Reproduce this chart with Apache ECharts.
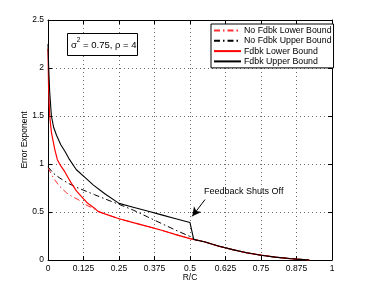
<!DOCTYPE html>
<html><head><meta charset="utf-8">
<script src="https://cdn.jsdelivr.net/npm/echarts@6/dist/echarts.min.js"></script>
<style>html,body{margin:0;padding:0;background:#fff}#c{width:368px;height:295px}</style>
</head><body><div id="c"></div>
<script>
var seriesNames = ['No Fdbk Lower Bound','No Fdbk Upper Bound','Fdbk Lower Bound','Fdbk Upper Bound'];
var xTicks = [0,0.125,0.25,0.375,0.5,0.625,0.75,0.875,1];
var yTicks = [0,0.5,1,1.5,2,2.5];
var tailX = [0.55,0.6,0.65,0.7,0.75,0.8,0.85,0.875,0.9,0.92];
var tailY = [0.19,0.145,0.108,0.075,0.05,0.03,0.015,0.009,0.004,0];
var fuX = [0,0.0025,0.006,0.012,0.02,0.03,0.045,0.06,0.076,0.1,0.13,0.16,0.2,0.25,0.3,0.35,0.4,0.45,0.5,0.513];
var fuY = [2.25,2.0,1.75,1.5,1.38,1.3,1.2,1.13,1.045,0.94,0.86,0.78,0.69,0.59,0.55,0.51,0.47,0.43,0.39,0.215];
var flX = [0,0.002,0.006,0.012,0.024,0.033,0.045,0.059,0.082,0.1,0.118,0.14,0.164,0.176,0.2,0.25,0.3,0.35,0.4,0.45,0.5];
var flY = [2.2,1.8,1.5,1.33,1.15,1.045,0.98,0.92,0.8,0.72,0.66,0.59,0.54,0.506,0.48,0.43,0.39,0.35,0.31,0.265,0.222];
var nlX = [0,0.02,0.04,0.065,0.085,0.106,0.13,0.164,0.176,0.2,0.25,0.3,0.35,0.4,0.45,0.5];
var nlY = [0.96,0.85,0.77,0.70,0.66,0.63,0.58,0.53,0.506,0.48,0.43,0.39,0.35,0.31,0.265,0.222];
var nuX = [0,0.02,0.041,0.07,0.106,0.164,0.223,0.25,0.3,0.35,0.4,0.45,0.5,0.52];
var nuY = [0.97,0.9,0.855,0.8,0.75,0.68,0.61,0.58,0.52,0.45,0.38,0.31,0.245,0.207];
var annotText = 'Feedback Shuts Off';
var annotFrom = [0.553,0.63];
var annotTo = [0.508,0.455];

function pairs(xs, ys, withTail){
  var out = xs.map(function(x,i){return [x, ys[i]];});
  if (withTail) tailX.forEach(function(x,i){ out.push([x, tailY[i]]); });
  return out;
}
var FONT = 'Liberation Sans';
var chart = echarts.init(document.getElementById('c'), null, {renderer:'canvas', width:368, height:295});
var dashDot = [6,3,1.5,3];
var axisCommon = {
  axisLine:{show:true, onZero:false, lineStyle:{color:'#000', width:1}},
  axisTick:{show:true, inside:true, length:4, lineStyle:{color:'#000'}},
  axisLabel:{color:'#000', fontSize:8.5, fontFamily:FONT, margin:4}
};
chart.setOption({
  animation:false,
  backgroundColor:'#fff',
  grid:{left:48, right:36, top:20, bottom:35, show:false},
  legend:{
    left:211, top:24, orient:'vertical', itemGap:1.3, itemWidth:27, itemHeight:9,
    padding:[2,2,2,2], borderColor:'#000', borderWidth:1, backgroundColor:'#fff',
    itemStyle:{opacity:0},
    textStyle:{color:'#000', fontSize:8.8, fontFamily:FONT, padding:[0,0,0,-2]},
    data: seriesNames
  },
  xAxis:[
    Object.assign({type:'value', min:0, max:1, interval:0.125, position:'bottom',
      name:'R/C', nameLocation:'middle', nameGap:13, nameMoveOverlap:false,
      nameTextStyle:{color:'#000', fontSize:8.5, fontFamily:FONT},
      splitLine:{show:true, lineStyle:{color:'#666', type:[1,3], width:1}}}, axisCommon),
    {type:'value', min:0, max:1, interval:0.125, position:'top',
      axisLine:{show:true, onZero:false, lineStyle:{color:'#000'}},
      axisTick:{show:true, inside:true, length:4, lineStyle:{color:'#000'}},
      axisLabel:{show:false}, splitLine:{show:false}}
  ],
  yAxis:[
    Object.assign({type:'value', min:0, max:2.5, interval:0.5, position:'left',
      name:'Error Exponent', nameLocation:'middle', nameGap:19, nameMoveOverlap:false,
      nameTextStyle:{color:'#000', fontSize:8.5, fontFamily:FONT},
      splitLine:{show:true, lineStyle:{color:'#666', type:[1,3], width:1}}}, axisCommon),
    {type:'value', min:0, max:2.5, interval:0.5, position:'right',
      axisLine:{show:true, onZero:false, lineStyle:{color:'#000'}},
      axisTick:{show:true, inside:true, length:4, lineStyle:{color:'#000'}},
      axisLabel:{show:false}, splitLine:{show:false}}
  ],
  series:[
    {name:seriesNames[0], type:'line', symbol:'none', data:pairs(nlX,nlY,true),
      lineStyle:{color:'#ff3030', width:1, type:dashDot}, itemStyle:{color:'#ff3030'}, z:2},
    {name:seriesNames[1], type:'line', symbol:'none', data:pairs(nuX,nuY,true),
      lineStyle:{color:'#000', width:1, type:dashDot}, itemStyle:{color:'#000'}, z:3},
    {name:seriesNames[2], type:'line', symbol:'none', data:pairs(flX,flY,true),
      lineStyle:{color:'#ff0000', width:1.2, type:'solid'}, itemStyle:{color:'#ff0000'}, z:4},
    {name:seriesNames[3], type:'line', symbol:'none', data:pairs(fuX,fuY,true),
      lineStyle:{color:'#000', width:1.1, type:'solid'}, itemStyle:{color:'#000'}, z:5,
      markLine:{silent:true, symbol:['none','arrow'], symbolSize:[7,9], animation:false,
        lineStyle:{color:'#000', width:1, type:'solid'}, label:{show:false},
        data:[[{coord:annotFrom},{coord:annotTo}]]}}
  ],
  graphic:[
    {type:'rect', left:67, top:33, shape:{width:70, height:22}, style:{fill:'#fff', stroke:'#000', lineWidth:1}, z:10},
    {type:'text', left:71, top:37, z:11, style:{
      rich:{n:{fontSize:9.5, fontFamily:FONT, fill:'#000', verticalAlign:'bottom'}, s:{fontSize:6.5, fontFamily:FONT, fill:'#000', verticalAlign:'top', padding:[0,0,6,0]}},
      text:'{n|σ}{s|2}{n| = 0.75, ρ = 4}'}}
  ]
});
var p = chart.convertToPixel({gridIndex:0}, annotFrom);
chart.setOption({graphic:[{}, {}, {type:'text', x:p[0]-1, y:p[1]-13, z:11,
  style:{text:annotText, fontSize:9, fontFamily:FONT, fill:'#000'}}]});
</script></body></html>
